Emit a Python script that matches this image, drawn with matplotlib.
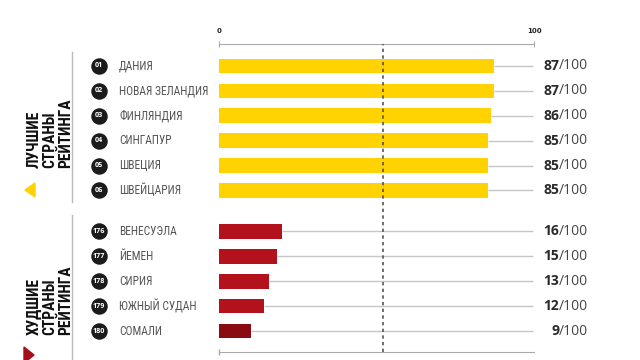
import numpy as np
import matplotlib.pyplot as plt
from matplotlib import font_manager

# pick a narrow font if there is one
names = set(f.name for f in font_manager.fontManager.ttflist)
cond = 'Roboto'
for cand in ['Roboto Condensed', 'Liberation Sans Narrow', 'DejaVu Sans Condensed', 'Open Sans Condensed']:
    if cand in names:
        cond = cand
        break
nums_font = 'Open Sans' if 'Open Sans' in names else 'DejaVu Sans'

# data
best_ranks = ['01', '02', '03', '04', '05', '06']
best_names = ['ДАНИЯ', 'НОВАЯ ЗЕЛАНДИЯ', 'ФИНЛЯНДИЯ', 'СИНГАПУР', 'ШВЕЦИЯ', 'ШВЕЙЦАРИЯ']
best_scores = [87, 87, 86, 85, 85, 85]
best_bars = [87.3, 87.3, 86.4, 85.4, 85.4, 85.4]

worst_ranks = ['176', '177', '178', '179', '180']
worst_names = ['ВЕНЕСУЭЛА', 'ЙЕМЕН', 'СИРИЯ', 'ЮЖНЫЙ СУДАН', 'СОМАЛИ']
worst_scores = [16, 15, 13, 12, 9]
worst_bars = [20.0, 18.5, 16.0, 14.4, 10.2]
worst_colors = ['#b3121c', '#b3121c', '#b3121c', '#b3121c', '#8a0c12']

avg_line = 52

yellow = '#ffd200'

fig = plt.figure(figsize=(6.4, 3.6), dpi=100)
ax = fig.add_axes([219/640, 8/360, 315/640, 308/360])

y_best = np.arange(len(best_names))
y_worst = np.arange(len(worst_names)) + len(best_names) + 0.65

ax.barh(y_best, best_bars, height=0.58, color=yellow, zorder=3)
ax.barh(y_worst, worst_bars, height=0.58, color=worst_colors, zorder=3)

ax.hlines(y_best, best_bars, 99.6, color='#c6c6c6', lw=1, zorder=1)
ax.hlines(y_worst, worst_bars, 99.6, color='#c6c6c6', lw=1, zorder=1)
ax.axvline(avg_line, color='#555555', lw=1.2, ls=(0, (2, 2)), zorder=4)

ax.set_xlim(0, 100)
ax.set_ylim(11.49, -0.88)

for s in ['left', 'right']:
    ax.spines[s].set_visible(False)
ax.spines['top'].set_color('#aaaaaa')
ax.spines['bottom'].set_color('#aaaaaa')
ax.set_yticks([])
ax.xaxis.set_ticks_position('top')
ax.set_xticks([0, 100])
ax.set_xticklabels(['0', '100'])
ax.tick_params(axis='x', direction='inout', length=4, color='#aaaaaa', pad=5,
               labelsize=5, labelcolor='#222222')
for t in ax.get_xticklabels():
    t.set_fontweight('bold')

# bottom tick at 0
ax.plot([0], [11.49], marker='|', ms=4, color='#aaaaaa', clip_on=False, zorder=5)

blend = ax.get_yaxis_transform()  # x axes-frac, y data

def fx(px):
    # figure pixel x -> axes fraction
    return (px/640 - 219/640) / (315/640)

all_y = list(y_best) + list(y_worst)
all_ranks = best_ranks + worst_ranks
all_names = best_names + worst_names
all_scores = best_scores + worst_scores

for y, r, n, sc in zip(all_y, all_ranks, all_names, all_scores):
    ax.scatter([fx(99)], [y], s=118, color='#1b1b1b', transform=blend,
               clip_on=False, zorder=5)
    ax.text(fx(99), y, r, transform=blend, ha='center', va='center',
            color='white', fontsize=5.2, fontweight='bold', family=nums_font, zorder=6)
    ax.text(fx(119), y, n, transform=blend, ha='left', va='center',
            color='#555555', fontsize=8.3, family=cond)
    ax.text(fx(559), y, str(sc), transform=blend, ha='right', va='center',
            color='#2a2a2a', fontsize=10, fontweight='bold', family=nums_font)
    ax.text(fx(559), y, '/100', transform=blend, ha='left', va='center',
            color='#444444', fontsize=10, family=nums_font)

# left group labels
fig.add_artist(plt.Line2D([72/640, 72/640], [1-52/360, 1-202/360],
                          color='#bbbbbb', lw=1))
fig.add_artist(plt.Line2D([72/640, 72/640], [1-215/360, 0],
                          color='#bbbbbb', lw=1))
fig.text(73/640, 1-168/360, 'ЛУЧШИЕ\nСТРАНЫ\nРЕЙТИНГА', rotation=90,
         ha='right', va='bottom', multialignment='left', linespacing=1.05,
         fontsize=11.2, fontweight='bold', color='#111111', family=cond)
fig.text(73/640, 1-335/360, 'ХУДШИЕ\nСТРАНЫ\nРЕЙТИНГА', rotation=90,
         ha='right', va='bottom', multialignment='left', linespacing=1.05,
         fontsize=11.2, fontweight='bold', color='#111111', family=cond)
fig.add_artist(plt.Polygon([[25/640, 1-190/360], [35/640, 1-183/360], [35/640, 1-197/360]],
                           closed=True, color=yellow))
fig.add_artist(plt.Polygon([[24/640, 1-347/360], [34/640, 1-355/360], [24/640, 1-363/360]],
                           closed=True, color='#a3101a'))

fig.savefig('out.png', dpi=100)
